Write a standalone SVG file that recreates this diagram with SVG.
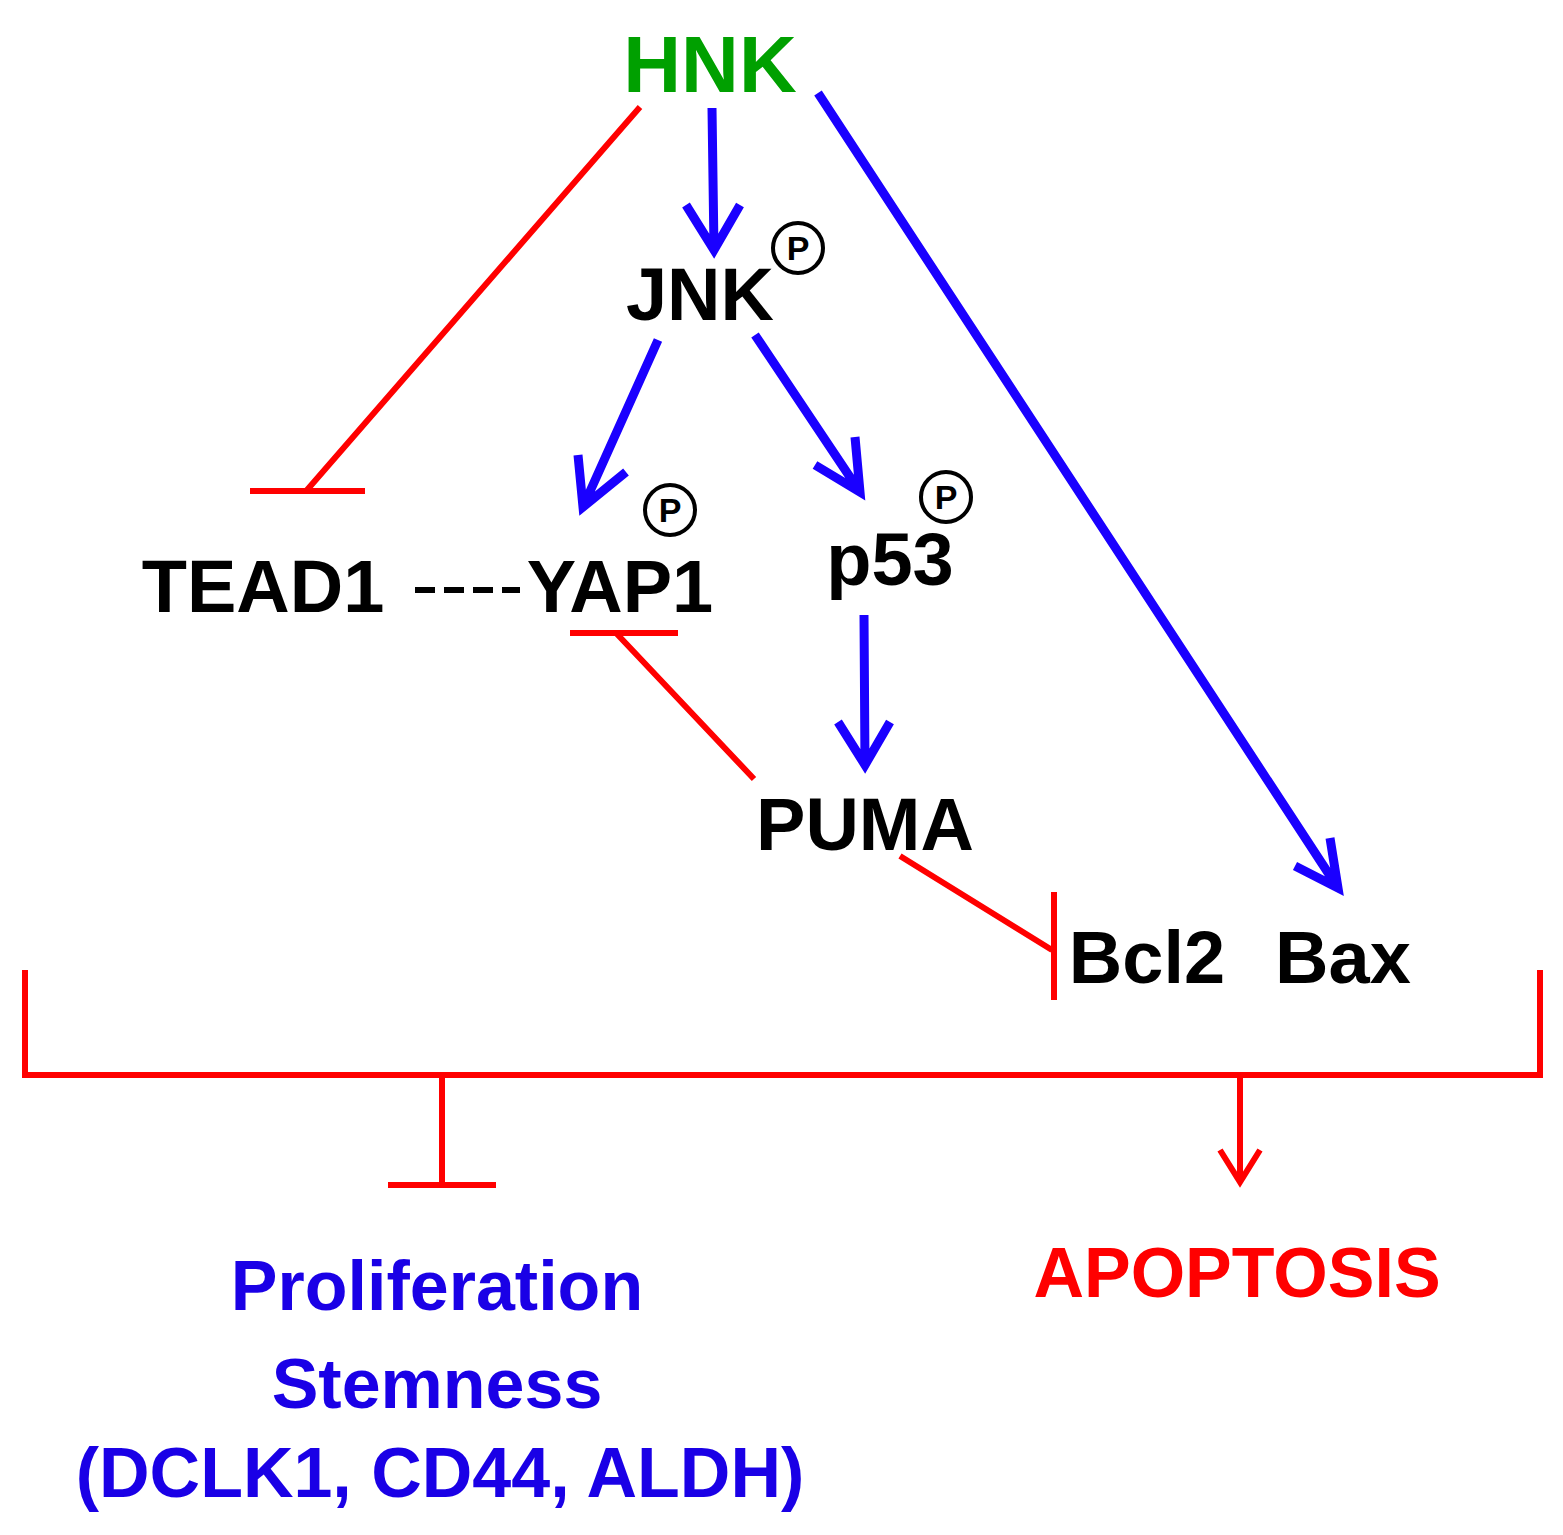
<svg xmlns="http://www.w3.org/2000/svg" width="1563" height="1535" viewBox="0 0 1563 1535">
<style>
text{font-family:"Liberation Sans",Arial,sans-serif;font-weight:bold;text-anchor:middle}
.k{fill:#000;font-size:74px}
.red{stroke:#ff0000;stroke-width:6;fill:none}
.blue{stroke:#1a00ff;stroke-width:9;fill:none}
.p{fill:none;stroke:#000;stroke-width:4}
.pt{font-size:34px;fill:#000}
</style>
<rect width="1563" height="1535" fill="#fff"/>
<g id="connectors">
<path class="red" d="M640,107 L307,490 M250,491 H365"/>
<path class="blue" d="M712,108 L714,250 M686,205 L714,250 L740,205"/>
<path class="blue" d="M658,340 L583,507 M578,455 L583,507 L626,472"/>
<path class="blue" d="M755,335 L860,492 M815,465 L860,492 L855,437"/>
<path class="blue" d="M818,93 L1338,888 M1295,866 L1338,888 L1330,838"/>
<path class="blue" d="M864,615 L865,765 M838,722 L865,765 L890,722"/>
<path class="red" d="M754,779 L617,634 M570,633 H678"/>
<path class="red" d="M900,856 L1052,950 M1054,892 V1000"/>
<path class="red" d="M25,970 V1075 H1540 V970"/>
<path class="red" d="M442,1075 V1185 M388,1185 H496"/>
<path class="red" d="M1240,1075 V1182 M1220,1150 L1240,1182 L1260,1150"/>
<path d="M415,590 H520" stroke="#000" stroke-width="6" stroke-dasharray="20 9"/>
</g>
<g id="HNK"><text x="710" y="92" font-size="80" fill="#00a000">HNK</text></g>
<g id="JNK"><text class="k" x="700" y="320">JNK</text><circle class="p" cx="798" cy="248" r="25"/><text class="pt" x="798" y="260">P</text></g>
<g id="TEAD1"><text class="k" x="263" y="612">TEAD1</text></g>
<g id="YAP1"><text class="k" x="620" y="612">YAP1</text><circle class="p" cx="670" cy="510" r="25"/><text class="pt" x="670" y="522">P</text></g>
<g id="p53"><text class="k" x="890" y="585">p53</text><circle class="p" cx="946" cy="497" r="25"/><text class="pt" x="946" y="509">P</text></g>
<g id="PUMA"><text class="k" x="865" y="850">PUMA</text></g>
<g id="Bcl2"><text class="k" x="1147" y="983">Bcl2</text></g>
<g id="Bax"><text class="k" x="1343" y="983">Bax</text></g>
<g id="prolif" fill="#1a00e6" font-size="70">
<text x="437" y="1310">Proliferation</text>
<text x="437" y="1408">Stemness</text>
<text x="440" y="1497">(DCLK1, CD44, ALDH)</text>
</g>
<g id="apoptosis"><text x="1237" y="1297" font-size="70" fill="#ff0000">APOPTOSIS</text></g>
</svg>
